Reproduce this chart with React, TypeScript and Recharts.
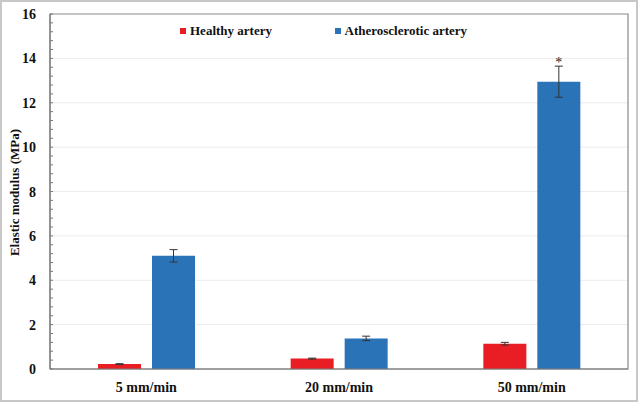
import React from 'react';
import {
  BarChart,
  Bar,
  XAxis,
  YAxis,
  CartesianGrid,
  ErrorBar,
  Legend,
  LabelList,
  ReferenceArea,
} from 'recharts';

const categories = ['5 mm/min', '20 mm/min', '50 mm/min'];
const healthy = [0.22, 0.47, 1.14];
const healthyErr = [0.02, 0.02, 0.06];
const athero = [5.1, 1.38, 12.95];
const atheroErr = [0.28, 0.1, 0.7];
const significance = ['', '', '*'];
const majorTicks = [0, 2, 4, 6, 8, 10, 12, 14, 16];
const gridValues = [2, 4, 6, 8, 10, 12, 14];

const data = categories.map((c, i) => ({
  name: c,
  healthy: healthy[i],
  healthyErr: healthyErr[i],
  athero: athero[i],
  atheroErr: atheroErr[i],
  sig: significance[i],
}));

const allTicks: number[] = [];
for (let i = 0; i < majorTicks.length; i++) {
  allTicks.push(majorTicks[i]);
  if (i < majorTicks.length - 1) {
    const step = (majorTicks[i + 1] - majorTicks[i]) / 5;
    for (let k = 1; k < 5; k++) {
      allTicks.push(Math.round((majorTicks[i] + k * step) * 1000) / 1000);
    }
  }
}

const FONT = "'Liberation Serif', 'Times New Roman', serif";
const RED = '#E91E25';
const BLUE = '#2B73B7';

const YTick = (props: any) => {
  const { x, y, payload } = props;
  const v = payload.value;
  if (!majorTicks.includes(v)) return <g />;
  return (
    <text
      x={x}
      y={y}
      dy="0.36em"
      textAnchor="end"
      fontFamily={FONT}
      fontWeight="bold"
      fontSize={14}
      fill="#111"
    >
      {v}
    </text>
  );
};

const renderYLabel = (props: any) => {
  const vb = props.viewBox || { x: 0, y: 14, width: 50, height: 355 };
  const cx = vb.x + 14;
  const cy = vb.y + vb.height / 2 + 1;
  return (
    <text
      x={cx}
      y={cy}
      transform={`rotate(-90 ${cx} ${cy})`}
      textAnchor="middle"
      dominantBaseline="central"
      fontFamily={FONT}
      fontWeight="bold"
      fontSize={13}
      fill="#111"
    >
      Elastic modulus (MPa)
    </text>
  );
};

const legendPositions: Record<string, number> = { healthy: 180, athero: 334.5 };

const renderLegend = (props: any) => {
  const payload = props.payload || [];
  return (
    <div style={{ position: 'relative', width: 640, height: 16 }}>
      {payload.map((entry: any, i: number) => (
        <div
          key={i}
          style={{
            position: 'absolute',
            left: legendPositions[entry.dataKey] ?? 180,
            top: 0,
            whiteSpace: 'nowrap',
            fontFamily: FONT,
            fontWeight: 'bold',
            fontSize: 13,
            lineHeight: '15px',
            color: '#111',
          }}
        >
          <span
            style={{
              display: 'inline-block',
              width: 6,
              height: 6,
              background: entry.color,
              marginRight: 4,
              verticalAlign: '1px',
            }}
          />
          {entry.value}
        </div>
      ))}
    </div>
  );
};

export default function App() {
  return (
    <div style={{ position: 'absolute', left: 0, top: 0, width: 640, height: 402, background: '#fff' }}>
      <BarChart
        width={640}
        height={402}
        data={data}
        margin={{ top: 14, right: 12, bottom: 3, left: 0 }}
        barSize={43}
        barGap={11}
      >
        <CartesianGrid vertical={false} horizontalValues={gridValues} stroke="#ececec" />
        <ReferenceArea y1={0} y2={16} fill="none" stroke="#8a8a8a" strokeWidth={1.2} ifOverflow="visible" />
        <XAxis
          dataKey="name"
          tickLine={false}
          tickSize={0}
          tickMargin={13}
          height={30}
          axisLine={{ stroke: '#7a7a7a', strokeWidth: 1.2 }}
          tick={{ fontFamily: FONT, fontWeight: 'bold', fontSize: 14, fill: '#111' }}
        />
        <YAxis
          width={50}
          domain={[0, 16]}
          ticks={allTicks}
          interval={0}
          tickSize={-3}
          tickMargin={17}
          tickLine={{ stroke: '#7a7a7a' }}
          axisLine={{ stroke: '#7a7a7a', strokeWidth: 1.2 }}
          tick={YTick}
          label={renderYLabel}
        />
        <Legend
          verticalAlign="middle"
          layout="horizontal"
          wrapperStyle={{ top: 23, left: 0, width: 640, height: 16 }}
          content={renderLegend}
        />
        <Bar dataKey="healthy" name="Healthy artery" fill={RED} isAnimationActive={false}>
          <ErrorBar dataKey="healthyErr" width={4} stroke="#333" strokeWidth={1} direction="y" isAnimationActive={false} />
        </Bar>
        <Bar dataKey="athero" name="Atherosclerotic artery" fill={BLUE} isAnimationActive={false}>
          <ErrorBar dataKey="atheroErr" width={4} stroke="#333" strokeWidth={1} direction="y" isAnimationActive={false} />
          <LabelList dataKey="sig" position="top" offset={15} fontFamily={FONT} fontSize={14} fill="#222" />
        </Bar>
      </BarChart>
      <div
        style={{
          position: 'absolute',
          left: 0,
          top: 0,
          width: 638,
          height: 402,
          border: '2px solid #c8c8c8',
          boxSizing: 'border-box',
          pointerEvents: 'none',
        }}
      />
    </div>
  );
}
